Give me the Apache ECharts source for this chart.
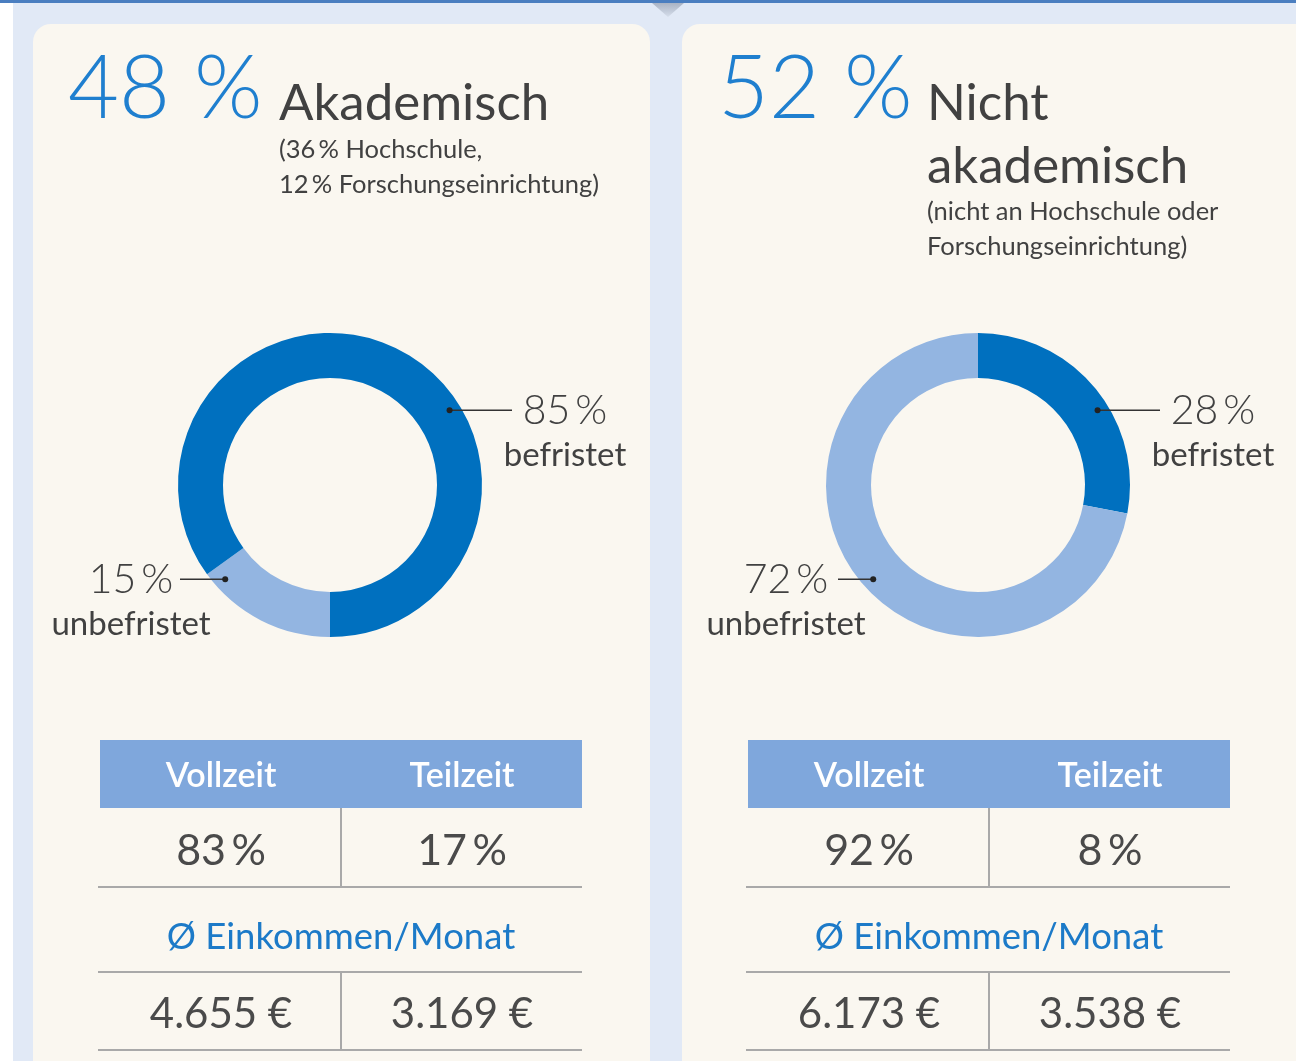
<!DOCTYPE html>
<html>
<head>
<meta charset="utf-8">
<script src="https://cdn.jsdelivr.net/npm/echarts@6/dist/echarts.min.js"></script>
<style>
  html, body { margin: 0; padding: 0; background: #fff; }
  #chart { width: 1296px; height: 1061px; }
</style>
</head>
<body>
<div id="chart"></div>
<script>
// data read from the infographic
const groups = ['Akademisch', 'Nicht akademisch']
const titleLines = [['Akademisch'], ['Nicht', 'akademisch']]
const noteLines = [
  ['(36\u2009% Hochschule,', '12\u2009% Forschungseinrichtung)'],
  ['(nicht an Hochschule oder', 'Forschungseinrichtung)']
]
const shares = [48, 52]
const befristet = [85, 28]
const unbefristet = [15, 72]
const tableHead = ['Vollzeit', 'Teilzeit']
const vollzeit = [83, 92]
const teilzeit = [17, 8]
const incomeTitle = 'Ø Einkommen/Monat'
const incomeVoll = [4655, 6173]
const incomeTeil = [3169, 3538]

const DARK = '#0070bf'
const LIGHT = '#93b5e1'
const TEXT = '#414141'
const BLUE_TEXT = '#1c7ac8'
const FONT = 'Lato, "Open Sans", sans-serif'

const pct = v => v + '\u2009%'
const euro = v => String(v).replace(/\B(?=(\d{3})+(?!\d))/g, '.') + ' €'

const chart = echarts.init(document.getElementById('chart'))

const txt = (text, x, y, size, opts = {}) => ({
  type: 'text',
  z: 10,
  silent: true,
  style: Object.assign({
    text, x, y,
    fontSize: size,
    fontFamily: FONT,
    fontWeight: 400,
    fill: TEXT,
    align: 'left',
    verticalAlign: 'middle'
  }, opts)
})

const hline = (x1, x2, y, color = '#a9a9a9', w = 2) => ({
  type: 'line', z: 5, silent: true,
  shape: { x1, y1: y, x2, y2: y },
  style: { stroke: color, lineWidth: w }
})
const vline = (x, y1, y2) => ({
  type: 'line', z: 5, silent: true,
  shape: { x1: x, y1, x2: x, y2 },
  style: { stroke: '#a9a9a9', lineWidth: 2 }
})

// donut geometry
const centers = [[330, 485], [978, 485]]
const radius = [107, 152]
const startAngles = [270, 90]
const dotR = 141
const dotAngle = { dark: 58, light: 228 } // clockwise from 12 o'clock

const dotAt = (c, deg) => {
  const a = deg * Math.PI / 180
  return [c[0] + dotR * Math.sin(a), c[1] - dotR * Math.cos(a)]
}

let graphics = [
  { type: 'rect', z: -10, silent: true, shape: { x: 0, y: 0, width: 1296, height: 1061 }, style: { fill: '#ffffff' } },
  { type: 'rect', z: -9, silent: true, shape: { x: 13, y: 3, width: 1283, height: 1058 }, style: { fill: '#e1e9f6' } },
  { type: 'rect', z: -8, silent: true, shape: { x: 0, y: 0, width: 1296, height: 3 }, style: { fill: '#4a7ec0' } },
  {
    type: 'polygon', z: -8, silent: true,
    shape: { points: [[652, 3], [684, 3], [668, 17]] },
    style: { fill: new echarts.graphic.LinearGradient(0, 0, 0, 1, [
      { offset: 0, color: '#a9b3c4' }, { offset: 1, color: '#d6deeb' }
    ]) }
  }
]

groups.forEach((g, i) => {
  const ox = i * 648
  const c = centers[i]
  // panel
  graphics.push({
    type: 'rect', z: -7, silent: true,
    shape: { x: 33 + ox + (i ? 1 : 0), y: 24, width: i ? 660 : 617, height: 1100, r: 18 },
    style: { fill: '#faf7f0' }
  })
  // headline
  graphics.push(txt(shares[i] + ' %', 68 + ox + i * 2, 90, 88, { fill: '#1f7fcf', fontWeight: 300 }))
  titleLines[i].forEach((t, k) => {
    graphics.push(txt(t, 279 + ox, 104 + k * 63, 51))
  })
  const noteTop = i ? 212 : 150
  noteLines[i].forEach((t, k) => {
    graphics.push(txt(t, 279 + ox, noteTop + k * 35, 25.5))
  })

  // donut labels
  const d1 = dotAt(c, dotAngle.dark)
  const d2 = dotAt(c, dotAngle.light)
  const darkX = c[0] + 235
  const lightX = c[0] - (i ? 192 : 199)
  graphics.push(
    { type: 'line', z: 12, silent: true, shape: { x1: d1[0], y1: d1[1], x2: c[0] + 182, y2: d1[1] }, style: { stroke: '#333', lineWidth: 1.5 } },
    { type: 'circle', z: 12, silent: true, shape: { cx: d1[0], cy: d1[1], r: 3 }, style: { fill: '#222' } },
    { type: 'line', z: 12, silent: true, shape: { x1: lightX + (i ? 52 : 49), y1: d2[1], x2: d2[0], y2: d2[1] }, style: { stroke: '#333', lineWidth: 1.5 } },
    { type: 'circle', z: 12, silent: true, shape: { cx: d2[0], cy: d2[1], r: 3 }, style: { fill: '#222' } },
    txt(pct(befristet[i]), darkX, d1[1], 41, { align: 'center', fontWeight: 300 }),
    txt('befristet', darkX, 455, 33, { align: 'center' }),
    txt(pct(unbefristet[i]), lightX, d2[1], 41, { align: 'center', fontWeight: 300 }),
    txt('unbefristet', lightX, 624, 33, { align: 'center' })
  )

  // table
  const tx = 100 + ox
  const mid = 341 + ox
  const col = [221 + ox, 462 + ox]
  graphics.push(
    { type: 'rect', z: 4, silent: true, shape: { x: tx, y: 740, width: 482, height: 68 }, style: { fill: '#7fa7dc' } },
    txt(tableHead[0], col[0], 776, 34, { align: 'center', fill: '#ffffff', fontWeight: 600 }),
    txt(tableHead[1], col[1], 776, 34, { align: 'center', fill: '#ffffff', fontWeight: 600 }),
    vline(mid, 808, 887),
    txt(pct(vollzeit[i]), col[0], 851, 43, { align: 'center', fill: '#4a4a4a' }),
    txt(pct(teilzeit[i]), col[1], 851, 43, { align: 'center', fill: '#4a4a4a' }),
    hline(tx - 2, tx + 482, 887),
    txt(incomeTitle, mid, 937, 36.5, { align: 'center', fill: BLUE_TEXT }),
    hline(tx - 2, tx + 482, 972),
    vline(mid, 972, 1050),
    txt(euro(incomeVoll[i]), col[0], 1014, 42, { align: 'center', fill: '#4a4a4a' }),
    txt(euro(incomeTeil[i]), col[1], 1014, 42, { align: 'center', fill: '#4a4a4a' }),
    hline(tx - 2, tx + 482, 1050)
  )
})

const pieSeries = groups.map((g, i) => ({
  name: g,
  type: 'pie',
  z: 3,
  silent: true,
  center: centers[i],
  radius: radius,
  startAngle: startAngles[i],
  clockwise: true,
  label: { show: false },
  labelLine: { show: false },
  emphasis: { disabled: true },
  itemStyle: { borderWidth: 0 },
  data: i === 0
    ? [
        { name: 'unbefristet', value: unbefristet[i], itemStyle: { color: LIGHT } },
        { name: 'befristet', value: befristet[i], itemStyle: { color: DARK } }
      ]
    : [
        { name: 'befristet', value: befristet[i], itemStyle: { color: DARK } },
        { name: 'unbefristet', value: unbefristet[i], itemStyle: { color: LIGHT } }
      ]
}))

chart.setOption({
  animation: false,
  tooltip: { show: false },
  graphic: graphics,
  series: pieSeries
})
</script>
</body>
</html>
